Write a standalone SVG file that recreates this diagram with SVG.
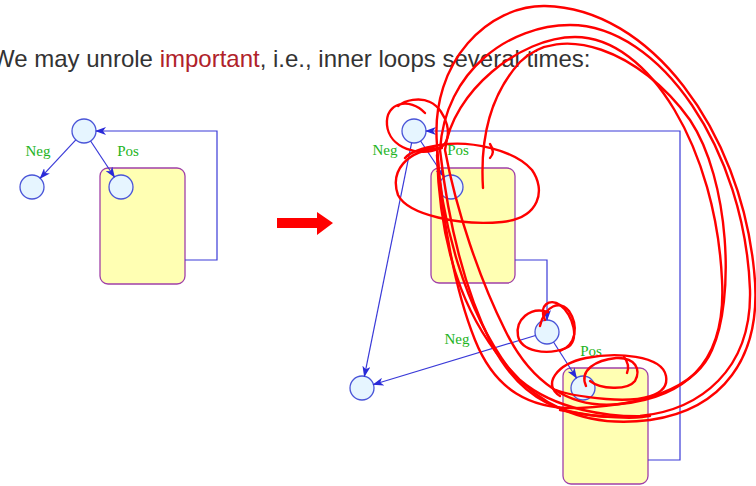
<svg xmlns="http://www.w3.org/2000/svg" width="756" height="486" viewBox="0 0 756 486">
  <defs>
    <marker id="arr" markerWidth="11" markerHeight="8" refX="10" refY="4" orient="auto" markerUnits="userSpaceOnUse">
      <path d="M0,0 L11,4 L0,8 L3,4 Z" fill="#2a2ad8"/>
    </marker>
    <style>
      .title { font-family: "Liberation Sans", Arial, sans-serif; font-size: 24px; fill: #333333; }
      .hl { fill: #b0222a; }
      .lbl { font-family: "Liberation Serif", "Times New Roman", serif; font-size: 15px; fill: #22b422; text-anchor: middle; }
      .node { fill: #e6f5ff; stroke: #4a55d8; stroke-width: 1.3; }
      .box { fill: #ffffb3; stroke: #a040a8; stroke-width: 1.3; }
      .edge { fill: none; stroke: #3a3ad8; stroke-width: 1.2; }
      .ink { fill: none; stroke: #ff0000; stroke-width: 2.4; stroke-linecap: round; stroke-linejoin: round; }
    </style>
  </defs>

  <rect width="756" height="486" fill="#ffffff"/>

  <text class="title" x="-8" y="67">We may unrole <tspan class="hl">important</tspan>, i.e., inner loops several times:</text>

  <!-- left: original loop -->
  <g id="L-body"><rect class="box" x="100" y="168" width="85" height="116" rx="8"/></g>
  <g id="L-top"><circle class="node" cx="84" cy="131" r="12"/></g>
  <g id="L-exit"><circle class="node" cx="32" cy="187" r="12"/></g>
  <g id="L-entry"><circle class="node" cx="121" cy="187" r="12"/></g>

  <!-- right: unrolled loop -->
  <g id="R-body1"><rect class="box" x="431" y="168" width="84" height="115" rx="8"/></g>
  <g id="R-body2"><rect class="box" x="563" y="368" width="85" height="116" rx="8"/></g>
  <g id="R-top"><circle class="node" cx="414" cy="131" r="12"/></g>
  <g id="R-entry1"><circle class="node" cx="451" cy="187" r="12"/></g>
  <g id="R-test2"><circle class="node" cx="547" cy="332" r="12"/></g>
  <g id="R-entry2"><circle class="node" cx="583" cy="388" r="12"/></g>
  <g id="R-exit"><circle class="node" cx="362" cy="388" r="12"/></g>

  <g id="connectors">
    <path class="edge" d="M75.8,139.8 L40.2,178.2" marker-end="url(#arr)"/>
    <path class="edge" d="M90.6,141 L114.4,177" marker-end="url(#arr)"/>
    <path class="edge" d="M185,260 H217 V131 H96" marker-end="url(#arr)"/>

    <path class="edge" d="M420.6,141 L444.4,177" marker-end="url(#arr)"/>
    <path class="edge" d="M411.6,142.8 L364.4,376.2" marker-end="url(#arr)"/>
    <path class="edge" d="M515,260 H547 V320" marker-end="url(#arr)"/>
    <path class="edge" d="M535.5,335.5 L373.5,384.5" marker-end="url(#arr)"/>
    <path class="edge" d="M553.5,342 L576.5,378" marker-end="url(#arr)"/>
    <path class="edge" d="M648,460 H680 V131 H426" marker-end="url(#arr)"/>
  </g>

  <g id="labels">
    <text class="lbl" x="38" y="156">Neg</text>
    <text class="lbl" x="128" y="156">Pos</text>
    <text class="lbl" x="385" y="155">Neg</text>
    <text class="lbl" x="458" y="155">Pos</text>
    <text class="lbl" x="457" y="344">Neg</text>
    <text class="lbl" x="591" y="356">Pos</text>
  </g>

  <!-- transformation arrow -->
  <path d="M277,218 H317 V212 L333,223 L317,235 V228 H277 Z" fill="#ff0000"/>

  <!-- hand-drawn markup -->
  <g id="markup" class="ink">
    <path d="M425,113 C410,97 385,102 387,125 C389,148 420,158 440,148 C455,140 447,110 430,102 C420,97 405,100 398,106"/>
    <path d="M442,148 C405,150 390,172 398,195 C408,215 460,226 502,222 C540,218 546,190 532,170 C515,150 470,140 440,145 C422,148 410,152 405,158"/>
    <path d="M490,144 C494,150 493,155 490,158"/>
    <path d="M437,145 C430,60 490,5 545,6 C650,8 740,130 754,270 C764,360 720,410 650,420 C590,428 545,410 510,370 C465,310 440,220 437,145"/>
    <path d="M440,150 C445,70 510,25 570,25 C660,25 745,150 750,290 C752,370 700,410 640,416 C560,422 520,398 492,345 C462,285 447,212 440,150"/>
    <path d="M445,150 C452,92 520,37 575,37 C650,37 716,150 722,280 C727,368 680,398 620,404 C570,410 530,382 505,330 C480,280 456,210 445,150"/>
    <path d="M483,188 C480,140 490,95 520,62 C560,22 640,50 690,120 C730,180 735,300 712,350 C695,390 640,405 580,408 C530,410 495,390 475,340 C455,290 442,220 437,150"/>
    <path d="M437,155 C440,260 470,330 520,380 C555,410 610,418 650,416"/>
    <path d="M548,312 C530,306 515,320 518,336 C521,351 546,356 566,348 C581,342 573,314 560,305 C550,298 538,305 545,320"/>
    <path d="M540,326 C545,305 560,300 569,311 C579,326 576,345 560,351"/>
    <path d="M560,396 C542,385 556,364 586,358 C616,352 662,355 666,376 C670,396 640,402 606,399 C585,397 565,394 556,390"/>
    <path d="M586,386 C579,370 596,360 616,358 C636,357 641,370 635,381 C627,391 600,389 590,381"/>
    <path d="M624,357 C628,362 629,368 627,373"/>
    <path d="M560,410 C600,418 640,420 650,415"/>
  </g>
</svg>
